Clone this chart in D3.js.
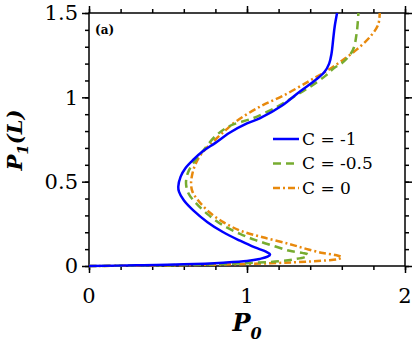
<!DOCTYPE html>
<html>
<head>
<meta charset="utf-8">
<script src="https://cdn.jsdelivr.net/npm/d3@7"></script>
<style>
  body { margin: 0; background: #fff; }
</style>
</head>
<body>
<div id="chart"></div>
<script>
// Curves: P0 (x) and P1(L) (y), ordered along the curve
var blueP0 = [0, 0.3, 0.6, 0.85, 1.0, 1.08, 1.13, 1.146, 1.12, 1.05, 0.956, 0.85, 0.75, 0.66, 0.6, 0.57, 0.565, 0.58, 0.61, 0.66, 0.72, 0.8, 0.89, 1.0, 1.08, 1.22, 1.335, 1.43, 1.49, 1.52, 1.535, 1.545, 1.555, 1.57];
var blueP1 = [0, 0.004, 0.01, 0.02, 0.03, 0.042, 0.055, 0.068, 0.085, 0.11, 0.15, 0.2, 0.26, 0.33, 0.39, 0.44, 0.47, 0.53, 0.58, 0.63, 0.68, 0.73, 0.79, 0.845, 0.875, 0.95, 1.035, 1.1, 1.15, 1.2, 1.26, 1.34, 1.42, 1.5];

var greenP0 = [0, 0.4, 0.8, 1.0, 1.2, 1.3, 1.37, 1.386, 1.35, 1.27, 1.165, 1.05, 0.956, 0.85, 0.76, 0.68, 0.63, 0.614, 0.625, 0.66, 0.72, 0.8, 0.89, 1.04, 1.19, 1.29, 1.4, 1.5, 1.545, 1.61, 1.67, 1.694, 1.705];
var greenP1 = [0, 0.004, 0.01, 0.017, 0.028, 0.04, 0.055, 0.068, 0.078, 0.09, 0.12, 0.155, 0.19, 0.24, 0.3, 0.37, 0.43, 0.49, 0.55, 0.61, 0.68, 0.77, 0.83, 0.877, 0.944, 1.0, 1.063, 1.13, 1.17, 1.21, 1.28, 1.38, 1.5];

var orangeP0 = [0, 0.5, 1.0, 1.3, 1.5, 1.58, 1.6, 1.56, 1.48, 1.38, 1.27, 1.1, 0.956, 0.85, 0.76, 0.69, 0.655, 0.646, 0.655, 0.672, 0.7, 0.745, 0.8, 0.87, 0.935, 1.08, 1.23, 1.4, 1.51, 1.59, 1.69, 1.78, 1.83, 1.84];
var orangeP1 = [0, 0.004, 0.012, 0.022, 0.033, 0.042, 0.052, 0.065, 0.077, 0.1, 0.13, 0.17, 0.21, 0.26, 0.32, 0.39, 0.44, 0.49, 0.55, 0.6, 0.65, 0.7, 0.75, 0.81, 0.86, 0.944, 1.01, 1.1, 1.16, 1.21, 1.28, 1.36, 1.43, 1.5];

var seriesNames = ['C = -1', 'C = -0.5', 'C = 0'];
var xMajorTicks = [0, 1, 2];
var yMajorTicks = [0, 0.5, 1, 1.5];
var yTickLabels = ['0', '0.5', '1', '1.5'];

var serif = "'DejaVu Serif', 'Liberation Serif', serif";

var margin = {top: 13, left: 89},
    width = 316,
    height = 253;

var svg = d3.select('#chart').append('svg')
            .attr('width', 415)
            .attr('height', 357)
            .style('font-family', serif);

var g = svg.append('g')
           .attr('transform', 'translate(' + margin.left + ',' + margin.top + ')');

var x = d3.scaleLinear().domain([0, 2]).range([0, width]);
var y = d3.scaleLinear().domain([0, 1.5]).range([height, 0]);

var xMinor = d3.range(0, 2.0001, 0.2);
var yMinor = d3.range(0, 1.5001, 0.1);

// minor + major ticks on all four sides, pointing outwards
function tickAxis(axisFn, scale, values, size, transform) {
  var a = axisFn(scale).tickValues(values).tickSize(size).tickFormat('');
  var sel = g.append('g').attr('transform', transform).call(a);
  sel.select('.domain').remove();
  sel.selectAll('line').attr('stroke', '#000').attr('stroke-width', 1.5);
  return sel;
}
tickAxis(d3.axisBottom, x, xMinor, 4, 'translate(0,' + height + ')');
tickAxis(d3.axisBottom, x, xMajorTicks, 7, 'translate(0,' + height + ')');
tickAxis(d3.axisTop, x, xMinor, 4, 'translate(0,0)');
tickAxis(d3.axisTop, x, xMajorTicks, 7, 'translate(0,0)');
tickAxis(d3.axisLeft, y, yMinor, 4, 'translate(0,0)');
tickAxis(d3.axisLeft, y, yMajorTicks, 7, 'translate(0,0)');
tickAxis(d3.axisRight, y, yMinor, 4, 'translate(' + width + ',0)');
tickAxis(d3.axisRight, y, yMajorTicks, 7, 'translate(' + width + ',0)');

// frame
g.append('rect')
 .attr('width', width)
 .attr('height', height)
 .attr('fill', 'none')
 .attr('stroke', '#000')
 .attr('stroke-width', 1.5);

// tick labels
g.selectAll('.xlab')
 .data(xMajorTicks)
 .enter().append('text')
 .attr('x', function(d) { return x(d); })
 .attr('y', height + 37)
 .attr('text-anchor', 'middle')
 .style('font-family', serif)
 .attr('font-size', 21)
 .text(function(d) { return d; });

g.selectAll('.ylab')
 .data(yMajorTicks)
 .enter().append('text')
 .attr('x', -11)
 .attr('y', function(d) { return y(d); })
 .attr('dy', '0.35em')
 .attr('text-anchor', 'end')
 .style('font-family', serif)
 .attr('font-size', 21)
 .text(function(d, i) { return yTickLabels[i]; });

// axis titles
var xt = svg.append('text')
            .attr('x', 247)
            .attr('y', 331)
            .attr('text-anchor', 'middle')
            .style('font-family', serif)
            .attr('font-size', 24)
            .attr('font-weight', 'bold')
            .attr('font-style', 'italic');
xt.append('tspan').text('P');
xt.append('tspan').attr('font-size', 16).attr('dy', 8).text('0');

var yt = svg.append('text')
            .attr('transform', 'translate(22,140) rotate(-90)')
            .attr('text-anchor', 'middle')
            .style('font-family', serif)
            .attr('font-size', 21)
            .attr('font-weight', 'bold')
            .attr('font-style', 'italic');
yt.append('tspan').text('P');
yt.append('tspan').attr('font-size', 15).attr('dy', 6).text('1');
yt.append('tspan').attr('dy', -6).text('(L)');

svg.append('text')
   .attr('x', 95)
   .attr('y', 34)
   .style('font-family', serif)
   .attr('font-size', 12)
   .attr('font-weight', 'bold')
   .text('(a)');

// curves
var series = [
  {p0: blueP0, p1: blueP1, color: '#0000ff', dash: null},
  {p0: greenP0, p1: greenP1, color: '#77ac30', dash: '8,5'},
  {p0: orangeP0, p1: orangeP1, color: '#e8890c', dash: '7,3,2,3'}
];

var line = d3.line()
             .curve(d3.curveCatmullRom)
             .x(function(d) { return x(d[0]); })
             .y(function(d) { return y(d[1]); });

series.slice().reverse().forEach(function(s) {
  var pts = s.p0.map(function(v, i) { return [v, s.p1[i]]; });
  g.append('path')
   .attr('d', line(pts))
   .attr('fill', 'none')
   .attr('stroke', s.color)
   .attr('stroke-width', 2.5)
   .attr('stroke-dasharray', s.dash);
});

// legend
var legend = svg.append('g').attr('transform', 'translate(273,139)');
series.forEach(function(s, i) {
  var row = legend.append('g').attr('transform', 'translate(0,' + (i * 24.5) + ')');
  row.append('line')
     .attr('x1', 0).attr('x2', 26)
     .attr('stroke', s.color)
     .attr('stroke-width', 2.5)
     .attr('stroke-dasharray', s.dash);
  row.append('text')
     .attr('x', 29)
     .attr('dy', '0.35em')
     .style('font-family', serif)
     .attr('font-size', 17)
     .text(seriesNames[i]);
});
</script>
</body>
</html>
